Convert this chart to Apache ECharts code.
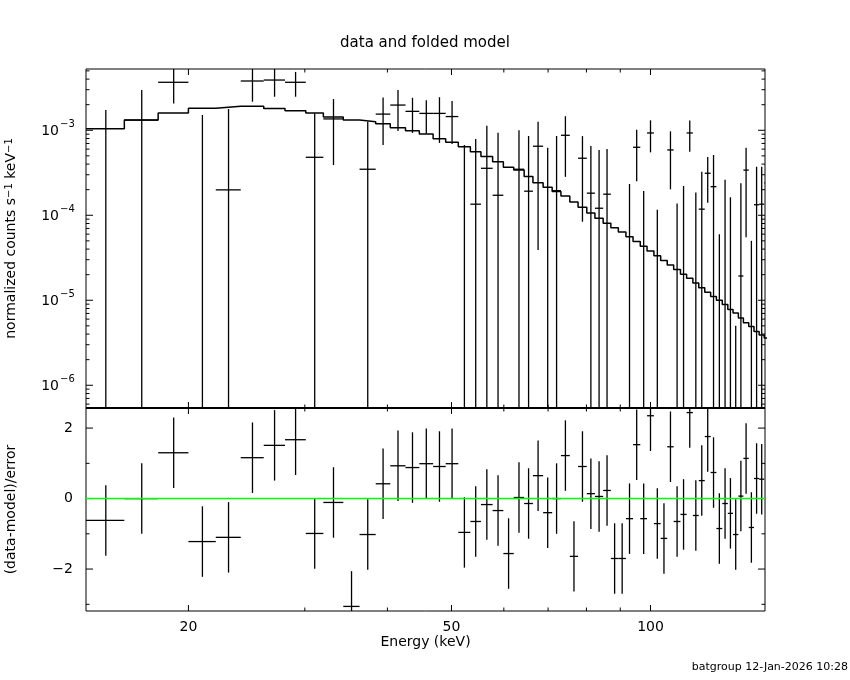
<!DOCTYPE html>
<html lang="en">
<head>
<meta charset="UTF-8">
<title>data and folded model</title>
<style>
  html, body { margin: 0; padding: 0; background: #fff; }
  #main { width: 850px; height: 680px; }
</style>
</head>
<body>
<div id="main"></div>
<script src="https://cdn.jsdelivr.net/npm/echarts@6/dist/echarts.min.js"></script>
<script>
// channel edges in keV (60 bins)
var binEdges = [14.0, 16.0, 18.0, 20.0, 22.0, 24.0, 26.0, 28.0, 30.1, 32.0,
    34.3, 36.3, 38.4, 40.4, 42.6, 44.7, 46.9, 49.0, 51.2, 53.4,
    55.4, 57.7, 59.9, 62.1, 64.4, 66.4, 68.8, 71.0, 73.2, 75.5,
    77.7, 80.1, 82.4, 84.8, 87.1, 89.4, 91.8, 94.1, 96.5, 98.8,
    101.2, 103.6, 106.0, 108.4, 111.0, 113.4, 115.9, 118.3, 120.8, 123.3,
    125.8, 128.4, 130.9, 133.3, 135.8, 138.2, 140.8, 143.4, 146.0, 148.6, 151.2];

// folded model, counts/s/keV
var modelVal = [1.04e-3, 1.32e-3, 1.60e-3, 1.82e-3, 1.92e-3, 1.92e-3, 1.80e-3, 1.70e-3, 1.60e-3, 1.43e-3,
    1.32e-3, 1.26e-3, 1.19e-3, 1.07e-3, 9.9e-4, 9.05e-4, 7.97e-4, 7.22e-4, 6.41e-4, 5.6e-4,
    4.9e-4, 4.27e-4, 3.67e-4, 3.4e-4, 2.85e-4, 2.42e-4, 2.13e-4, 1.9e-4, 1.69e-4, 1.43e-4,
    1.24e-4, 1.06e-4, 9.2e-5, 8.06e-5, 7.15e-5, 6.37e-5, 5.6e-5, 4.92e-5, 4.33e-5, 3.8e-5,
    3.33e-5, 2.93e-5, 2.6e-5, 2.3e-5, 2.03e-5, 1.82e-5, 1.6e-5, 1.4e-5, 1.24e-5, 1.11e-5,
    1.0e-5, 8.9e-6, 7.8e-6, 7.1e-6, 6.2e-6, 5.45e-6, 4.9e-6, 4.3e-6, 3.9e-6, 3.6e-6];

// data points and 1-sigma errors
var dataVal = [-1.9e-4, 1.32e-3, 3.67e-3, -1.0e-4, 1.99e-4, 3.8e-3, 3.9e-3, 3.67e-3, 4.81e-4, 1.36e-3,
    -8.2e-4, 3.48e-4, 1.55e-3, 1.98e-3, 1.67e-3, 1.58e-3, 1.58e-3, 1.45e-3, -2.8e-5, 1.35e-4,
    3.57e-4, 1.72e-4, -8.0e-4, 3.48e-4, 1.92e-4, 6.49e-4, -6.0e-5, 1.95e-4, 8.73e-4, -7.5e-4,
    4.69e-4, 1.82e-4, 1.21e-4, 1.77e-4, -6.6e-4, -6.5e-4, -1.8e-4, 6.31e-4, -1.56e-4, 9.3e-4,
    -1.67e-4, -3.3e-4, 5.87e-4, -1.91e-4, -1.43e-4, 9.3e-4, -1.4e-4, 1.18e-4, 3.12e-4, 2.17e-4,
    -2.7e-4, -3.2e-5, -1.05e-4, -9.5e-5, 1.93e-5, 3.4e-4, -2.0e-4, 1.33e-4, 1.35e-4, 2.4e-4];

var dataErr = [1.92e-3, 1.66e-3, 1.6e-3, 1.61e-3, 1.58e-3, 1.63e-3, 1.42e-3, 1.19e-3, 1.1e-3, 9.7e-4,
    7.0e-4, 9.1e-4, 8.8e-4, 1.0e-3, 7.4e-4, 6.7e-4, 8.7e-4, 7.6e-4, 7.0e-4, 6.55e-4,
    7.7e-4, 7.65e-4, 7.5e-4, 6.5e-4, 6.65e-4, 6.1e-4, 6.85e-4, 6.6e-4, 5.9e-4, 5.5e-4,
    3.85e-4, 4.7e-4, 4.66e-4, 4.26e-4, 4.3e-4, 4.2e-4, 4.14e-4, 3.8e-4, 3.49e-4, 3.8e-4,
    2.83e-4, 3.2e-4, 3.85e-4, 3.29e-4, 3.64e-4, 3.7e-4, 3.25e-4, 2.08e-4, 1.72e-4, 2.96e-4,
    3.3e-4, 2.93e-4, 2.68e-4, 1.0e-4, 2.19e-4, 2.85e-4, 2.5e-4, 2.4e-4, 2.38e-4, 2.6e-4];

// (data-model)/error
var residVal = [-0.62, 0.0, 1.30, -1.22, -1.10, 1.16, 1.51, 1.67, -0.99, -0.11,
    -3.06, -1.02, 0.42, 0.93, 0.88, 0.99, 0.91, 0.99, -0.96, -0.65,
    -0.17, -0.34, -1.56, 0.03, -0.14, 0.65, -0.40, 0.0, 1.22, -1.64,
    0.91, 0.14, 0.06, 0.23, -1.70, -1.70, -0.57, 1.53, -0.57, 2.35,
    -0.71, -1.13, 1.47, -0.65, -0.45, 2.44, -0.48, 0.51, 1.76, 0.74,
    -0.85, -0.14, -0.42, -1.02, 0.07, 1.14, -0.82, 0.57, 0.55, 0.99];

// ticks
var energyTicks = [20, 30, 40, 50, 60, 70, 80, 90, 100];
var energyLabels = [20, 50, 100];
var countMajor = [1e-6, 1e-5, 1e-4, 1e-3];
var countExp = ['\u22126', '\u22125', '\u22124', '\u22123'];
var countMinor = [6e-7, 7e-7, 8e-7, 9e-7,
    2e-6, 3e-6, 4e-6, 5e-6, 6e-6, 7e-6, 8e-6, 9e-6,
    2e-5, 3e-5, 4e-5, 5e-5, 6e-5, 7e-5, 8e-5, 9e-5,
    2e-4, 3e-4, 4e-4, 5e-4, 6e-4, 7e-4, 8e-4, 9e-4,
    2e-3, 3e-3, 4e-3, 5e-3];
var residMajor = [-2, 0, 2];
var residMinor = [-3, -1, 1];

var energyMin = 14, energyMax = 149;
var countMin = 5.4e-7, countMax = 5.26e-3;
var residMin = -3.19, residMax = 2.57;

var FONT = '"DejaVu Sans", sans-serif';

var chart = echarts.init(document.getElementById('main'));

function binMid(i) { return (binEdges[i] + binEdges[i + 1]) / 2; }

function seg(x1, y1, x2, y2, color, w) {
    return { type: 'line', shape: { x1: x1, y1: y1, x2: x2, y2: y2 },
        style: { stroke: color || '#000', lineWidth: w || 1 } };
}
function txt(s, x, y, align, size) {
    return { type: 'text', x: x, y: y,
        style: { text: s, fill: '#000', font: (size || 14) + 'px ' + FONT, align: align, verticalAlign: 'middle' } };
}

// model as a histogram step
var modelLine = [];
modelVal.forEach(function (m, i) {
    modelLine.push([binEdges[i], m]);
    modelLine.push([binEdges[i + 1], m]);
});

function renderData(params, api) {
    var i = params.dataIndex;
    var d = dataVal[i], e = dataErr[i], xc = binMid(i);
    var kids = [];
    if (d + e > 0) {
        var a = api.coord([xc, d + e]);
        var b = api.coord([xc, d - e > 0 ? d - e : countMin / 10]);
        kids.push(seg(a[0], a[1], b[0], b[1], '#000', 1.3));
    }
    if (d > 0) {
        var l = api.coord([binEdges[i], d]), r = api.coord([binEdges[i + 1], d]);
        kids.push(seg(l[0], l[1], r[0], r[1], '#000', 1.3));
    }
    return { type: 'group', children: kids };
}

function renderResid(params, api) {
    var i = params.dataIndex;
    var v = residVal[i], xc = binMid(i);
    var a = api.coord([xc, v + 1]), b = api.coord([xc, v - 1]);
    var l = api.coord([binEdges[i], v]), r = api.coord([binEdges[i + 1], v]);
    return { type: 'group', children: [
        seg(a[0], a[1], b[0], b[1], '#000', 1.3),
        seg(l[0], l[1], r[0], r[1], '#000', 1.3)
    ] };
}

function energyTickMarks(api, yRef, cs, kids, withLabels) {
    var y0 = cs.y, y1 = cs.y + cs.height;
    energyTicks.forEach(function (v) {
        var px = api.coord([v, yRef])[0];
        var len = energyLabels.indexOf(v) >= 0 ? 6 : 3.5;
        kids.push(seg(px, y1, px, y1 - len), seg(px, y0, px, y0 + len));
        if (withLabels && energyLabels.indexOf(v) >= 0) {
            kids.push(txt(String(v), px, y1 + 16, 'center', 14));
        }
    });
}

function renderCountAxes(params, api) {
    var cs = params.coordSys;
    var x0 = cs.x, x1 = cs.x + cs.width;
    var kids = [];
    energyTickMarks(api, countMin, cs, kids, false);
    countMajor.forEach(function (v, k) {
        var py = api.coord([energyMin, v])[1];
        kids.push(seg(x0, py, x0 + 7, py), seg(x1, py, x1 - 7, py));
        kids.push(txt('10', x0 - 27, py + 1, 'right', 14));
        kids.push(txt(countExp[k], x0 - 26, py - 6, 'left', 10));
    });
    countMinor.forEach(function (v) {
        var py = api.coord([energyMin, v])[1];
        kids.push(seg(x0, py, x0 + 3.5, py), seg(x1, py, x1 - 3.5, py));
    });
    return { type: 'group', children: kids };
}

function renderResidAxes(params, api) {
    var cs = params.coordSys;
    var x0 = cs.x, x1 = cs.x + cs.width;
    var kids = [];
    // heavier line between the two panels
    kids.push(seg(x0, cs.y, x1, cs.y, '#000', 2));
    energyTickMarks(api, 0, cs, kids, true);
    residMajor.forEach(function (v) {
        var py = api.coord([energyMin, v])[1];
        kids.push(seg(x0, py, x0 + 7, py), seg(x1, py, x1 - 7, py));
        kids.push(txt(v < 0 ? '\u2212' + (-v) : String(v), x0 - 13, py, 'right', 14));
    });
    residMinor.forEach(function (v) {
        var py = api.coord([energyMin, v])[1];
        kids.push(seg(x0, py, x0 + 3.5, py), seg(x1, py, x1 - 3.5, py));
    });
    // zero line
    var a = api.coord([energyMin, 0]), b = api.coord([energyMax, 0]);
    kids.push(seg(a[0], a[1], b[0], b[1], '#00ff00', 1.5));
    return { type: 'group', children: kids };
}

var hidden = { show: false };

var option = {
    backgroundColor: '#fff',
    animation: false,
    title: {
        text: 'data and folded model',
        left: 'center',
        top: 31,
        textStyle: { fontFamily: FONT, fontSize: 15, fontWeight: 'normal', color: '#000' }
    },
    graphic: [{
        type: 'text', right: 2, top: 662,
        style: { text: 'batgroup 12-Jan-2026 10:28', font: '11px ' + FONT, fill: '#000' }
    }],
    grid: [
        { left: 86, top: 69, width: 679, height: 339, containLabel: false, outerBoundsMode: 'none',
          show: true, borderColor: '#000', borderWidth: 1, backgroundColor: 'transparent' },
        { left: 86, top: 408, width: 679, height: 203, containLabel: false, outerBoundsMode: 'none',
          show: true, borderColor: '#000', borderWidth: 1, backgroundColor: 'transparent' }
    ],
    xAxis: [
        { gridIndex: 0, type: 'log', logBase: 10, min: energyMin, max: energyMax,
          axisLine: hidden, axisTick: hidden, axisLabel: hidden, splitLine: hidden },
        { gridIndex: 1, type: 'log', logBase: 10, min: energyMin, max: energyMax,
          axisLine: hidden, axisTick: hidden, axisLabel: hidden, splitLine: hidden,
          name: 'Energy (keV)', nameLocation: 'middle', nameGap: 24,
          nameTextStyle: { fontFamily: FONT, fontSize: 14, color: '#000' } }
    ],
    yAxis: [
        { gridIndex: 0, type: 'log', logBase: 10, min: countMin, max: countMax,
          axisLine: hidden, axisTick: hidden, axisLabel: hidden, splitLine: hidden,
          name: 'normalized counts s{s|\u22121} keV{s|\u22121}', nameLocation: 'middle', nameRotate: 90, nameGap: 68,
          nameTextStyle: { fontFamily: FONT, fontSize: 14, color: '#000',
              rich: { s: { fontFamily: FONT, fontSize: 10, color: '#000', verticalAlign: 'top' } } } },
        { gridIndex: 1, type: 'value', min: residMin, max: residMax,
          axisLine: hidden, axisTick: hidden, axisLabel: hidden, splitLine: hidden,
          name: '(data-model)/error', nameLocation: 'middle', nameRotate: 90, nameGap: 68,
          nameTextStyle: { fontFamily: FONT, fontSize: 14, color: '#000' } }
    ],
    series: [
        {
            name: 'model', type: 'line', xAxisIndex: 0, yAxisIndex: 0,
            data: modelLine, showSymbol: false, symbol: 'none', clip: true, z: 2,
            lineStyle: { color: '#000', width: 1.5 }
        },
        {
            name: 'data', type: 'custom', xAxisIndex: 0, yAxisIndex: 0, clip: true, z: 3,
            data: dataVal.map(function (d, i) { return [binMid(i), d]; }),
            renderItem: renderData
        },
        {
            name: 'resid', type: 'custom', xAxisIndex: 1, yAxisIndex: 1, clip: true, z: 3,
            data: residVal.map(function (v, i) { return [binMid(i), v]; }),
            renderItem: renderResid
        },
        {
            name: 'countAxes', type: 'custom', xAxisIndex: 0, yAxisIndex: 0, clip: false, z: 4, silent: true,
            data: [[energyMin, countMin]],
            renderItem: renderCountAxes
        },
        {
            name: 'residAxes', type: 'custom', xAxisIndex: 1, yAxisIndex: 1, clip: false, z: 5, silent: true,
            data: [[energyMin, 0]],
            renderItem: renderResidAxes
        }
    ]
};

chart.setOption(option);
</script>
</body>
</html>
